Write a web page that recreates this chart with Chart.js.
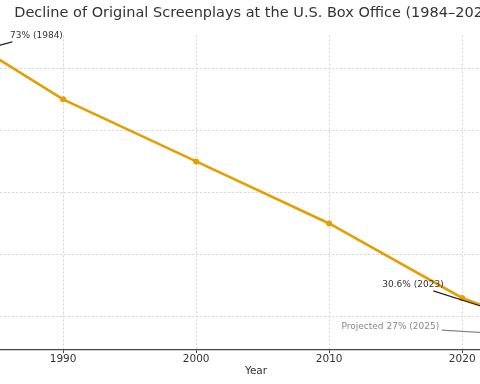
<!DOCTYPE html>
<html>
<head>
<meta charset="utf-8">
<script src="https://cdn.jsdelivr.net/npm/chart.js@4"></script>
<style>
  html, body { margin: 0; padding: 0; background: #fff; }
  #frame { position: relative; width: 480px; height: 384px; overflow: hidden; }
  #wrap { position: absolute; left: -104px; top: 0; width: 680px; height: 384px; }
</style>
</head>
<body>
<div id="frame"><div id="wrap"><canvas id="myChart" width="680" height="384"></canvas></div></div>
<script>
/* global Chart */

let years = [1984, 1990, 2000, 2010, 2020, 2023, 2025];
let share = [73, 65, 55, 45, 33, 30.6, 27];
let xTicks = [1990, 2000, 2010, 2020];
let yTicks = [30, 40, 50, 60, 70];

let noteText = ['73% (1984)', '30.6% (2023)', 'Projected 27% (2025)'];
let noteYear = [1984, 2023, 2025];
let noteValue = [73, 30.6, 27];

// where the note texts sit (data coords), and their colours
const notePos = [[1988, 75.3], [2016.3, 35.2], [2014.6, 28.3]];
const noteColor = ['#222', '#222', '#888'];
const noteTextColor = ['#333', '#333', '#888'];

// matplotlib-like 5% margins
const xSpan = Math.max(...years) - Math.min(...years);
const ySpan = Math.max(...share) - Math.min(...share);

const notes = {
  id: 'notes',
  afterDatasetsDraw(chart) {
    const { ctx, scales: { x, y } } = chart;
    ctx.save();
    ctx.font = '9px "DejaVu Sans"';
    ctx.textAlign = 'center';
    ctx.textBaseline = 'middle';
    noteText.forEach(function (t, i) {
      let tx = x.getPixelForValue(notePos[i][0]);
      let ty = y.getPixelForValue(notePos[i][1]);
      let px = x.getPixelForValue(noteYear[i]);
      let py = y.getPixelForValue(noteValue[i]);
      let hw = ctx.measureText(t).width / 2 + 2.5;
      let hh = 6.5;
      let dx = px - tx, dy = py - ty;
      let s = Math.min(hw / Math.abs(dx), hh / Math.abs(dy));
      let len = Math.hypot(dx, dy);
      ctx.strokeStyle = noteColor[i];
      ctx.lineWidth = 1.2;
      ctx.beginPath();
      ctx.moveTo(tx + dx * s, ty + dy * s);
      ctx.lineTo(px - dx / len * 3, py - dy / len * 3);
      ctx.stroke();
      ctx.fillStyle = noteTextColor[i];
      ctx.fillText(t, tx, ty);
    });
    ctx.restore();
  }
};

Chart.defaults.font.family = '"DejaVu Sans"';
Chart.defaults.color = '#333';

var ctx = document.getElementById('myChart').getContext('2d');
var myChart = new Chart(ctx, {
  type: 'line',
  data: {
    datasets: [{
      label: 'Original screenplays (%)',
      data: years.map((yr, i) => ({ x: yr, y: share[i] })),
      borderColor: '#E69F00',
      backgroundColor: '#E69F00',
      borderWidth: 2.6,
      pointRadius: 3,
      pointHoverRadius: 3,
      pointBorderWidth: 0,
      tension: 0,
      segment: {
        borderDash: c => c.p1DataIndex === years.length - 1 ? [6, 4] : undefined
      }
    }]
  },
  options: {
    responsive: false,
    animation: false,
    devicePixelRatio: 1,
    layout: { padding: { left: 0, right: 20, top: 0, bottom: 0 } },
    plugins: {
      legend: { display: false },
      tooltip: { enabled: false },
      title: {
        display: true,
        text: 'Decline of Original Screenplays at the U.S. Box Office (1984–2025)',
        fullSize: false,
        color: '#333',
        font: { size: 14.5, weight: 'normal' },
        padding: { top: 5, bottom: 13 }
      }
    },
    scales: {
      x: {
        type: 'linear',
        min: Math.min(...years) - 0.05 * xSpan,
        max: Math.max(...years) + 0.05 * xSpan,
        afterBuildTicks: s => { s.ticks = xTicks.map(v => ({ value: v })); },
        afterFit: s => { s.height = 34.5; },
        ticks: { padding: 0, font: { size: 10.5 }, color: '#333', callback: v => String(v) },
        grid: { color: '#d4d4d4', lineWidth: 1, tickColor: '#444', tickLength: 3.5, tickWidth: 1, tickBorderDash: [] },
        border: { display: true, color: '#444', width: 1.3, dash: [2, 2] },
        title: { display: true, text: 'Year', font: { size: 10.5 }, color: '#333', padding: { top: 0, bottom: 6 } }
      },
      y: {
        min: Math.min(...share) - 0.05 * ySpan,
        max: Math.max(...share) + 0.05 * ySpan,
        afterBuildTicks: s => { s.ticks = yTicks.map(v => ({ value: v })); },
        afterFit: s => { s.width = 60; },
        ticks: { font: { size: 10.5 }, color: '#333' },
        grid: { color: '#d4d4d4', lineWidth: 1, drawTicks: false },
        border: { display: true, color: '#444', width: 1.3, dash: [2, 2] }
      }
    }
  },
  plugins: [notes]
});
</script>
</body>
</html>
